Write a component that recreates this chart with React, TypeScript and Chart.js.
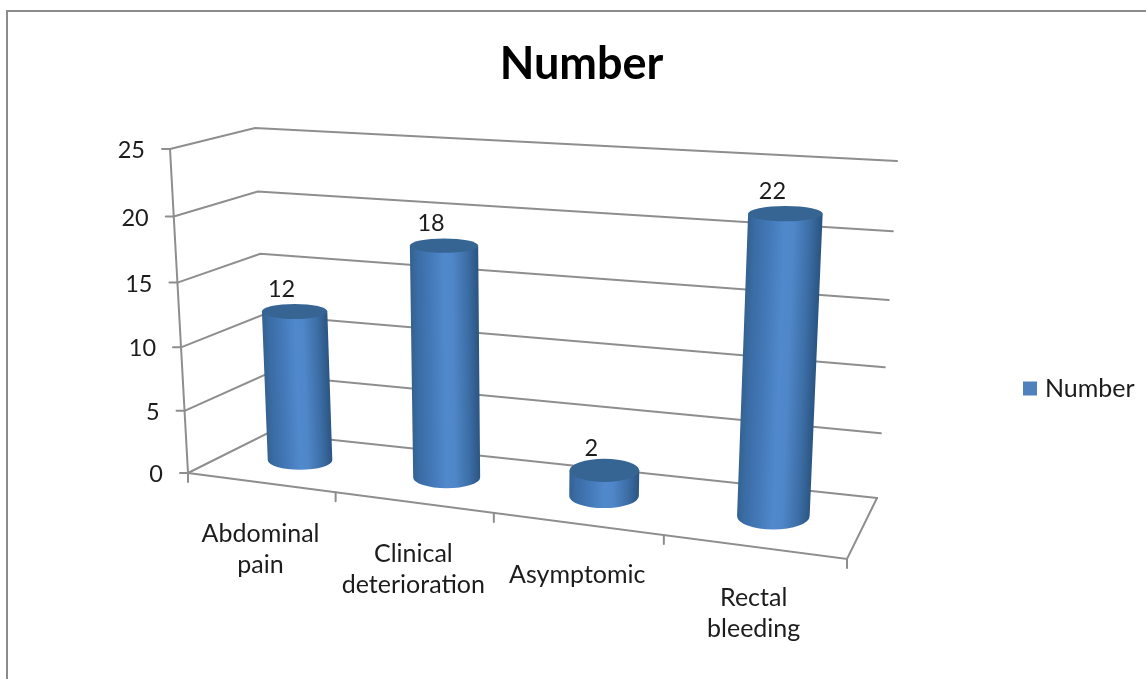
import React, { useEffect, useRef } from "react";
import { Chart, registerables } from "chart.js";

Chart.register(...registerables);

const categories = [["Abdominal", "pain"], ["Clinical", "deterioration"], ["Asymptomic"], ["Rectal", "bleeding"]];
const seriesName = "Number";
const values = [12, 18, 2, 22];
const yMax = 25;
const yStep = 5;

const FONT = "Lato, 'Open Sans', sans-serif";
const TEXT = "#1c1c1c";
const GRID = "#8e8e8e";
const BLUE = "#4f81bd";

// View of the 3D box: corners [u, depth, value]
const FLB = [188, 473], FRB = [847, 559], BLB = [268, 433], BRB = [877, 498];
const FLT = [170, 149], FRT = [864, 192], BLT = [255, 128], BRT = [897, 161];
const KU = 0.866, KV = 0.95, BAR_DEPTH = 0.53, RY = 0.23;
const FLATTEN = 0.55, MEAN_RX = 34.5;

const lerp = (a: number, b: number, t: number) => a + (b - a) * t;
function project(u: number, d: number, v: number) {
  const t = (u * KU) / (1 - u + u * KU);
  const w = (v * KV) / (1 - v + v * KV);
  const axis = (i: number) => {
    const fb = lerp(lerp(FLB[i], FRB[i], t), lerp(FLT[i], FRT[i], t), w);
    const bb = lerp(lerp(BLB[i], BRB[i], t), lerp(BLT[i], BRT[i], t), w);
    return lerp(fb, bb, d);
  };
  return { x: axis(0), y: axis(1) };
}

const cylinder3d = {
  id: "cylinder3d",
  afterLayout(chart: any) {
    const lg = chart.legend;
    if (lg) {
      lg.left = 1021.5;
      lg.top = 370;
    }
  },
  beforeDatasetDraw() {
    return false;
  },
  beforeDatasetsDraw(chart: any) {
    const { ctx, chartArea: ca, scales } = chart;
    const yS = scales.y;
    const normV = (px: number) => (ca.bottom - px) / (ca.bottom - ca.top);
    const normU = (px: number) => (px - ca.left) / (ca.right - ca.left);
    ctx.save();

    // walls & floor
    ctx.strokeStyle = GRID;
    ctx.lineWidth = 2;
    ctx.lineCap = "round";
    const line = (pts: { x: number; y: number }[], close = false) => {
      ctx.beginPath();
      pts.forEach((p, i) => (i ? ctx.lineTo(p.x, p.y) : ctx.moveTo(p.x, p.y)));
      if (close) ctx.closePath();
      ctx.stroke();
    };
    yS.ticks.forEach((tick: any) => {
      const v = normV(yS.getPixelForValue(tick.value));
      line([project(0, 0, v), project(0, 1, v), project(1, 1, v)]);
    });
    line([project(0, 0, 0), project(1, 0, 0), project(1, 1, 0)]);
    line([project(0, 0, 0), project(0, 0, 1)]);

    // tick marks
    yS.ticks.forEach((tick: any) => {
      const p = project(0, 0, normV(yS.getPixelForValue(tick.value)));
      line([p, { x: p.x - 8, y: p.y }]);
    });
    for (let i = 0; i <= categories.length; i++) {
      const p = project(i / categories.length, 0, 0);
      line([p, { x: p.x, y: p.y + 9 }]);
    }

    // axis text
    ctx.fillStyle = TEXT;
    ctx.font = `23.5px ${FONT}`;
    ctx.textBaseline = "middle";
    ctx.textAlign = "right";
    yS.ticks.forEach((tick: any) => {
      const p = project(0, 0, normV(yS.getPixelForValue(tick.value)));
      ctx.fillText(String(tick.value), p.x - 25, p.y + 1.5);
    });
    ctx.font = `25px ${FONT}`;
    ctx.textAlign = "center";
    const xS = scales.x;
    categories.forEach((lines, i) => {
      const p = project(normU(xS.getPixelForValue(i)), 0, 0);
      lines.forEach((txt, j) => ctx.fillText(txt, p.x, p.y + 51.5 + j * 31));
    });

    // cylinders
    const meta = chart.getDatasetMeta(0);
    meta.data.forEach((bar: any, i: number) => {
      const { x, y, base, width } = bar.getProps(["x", "y", "base", "width"], true);
      const u = normU(x);
      const ul = normU(x - width / 2);
      const ur = normU(x + width / 2);
      const vT = normV(y);
      const vB = normV(base);
      const B = project(u, BAR_DEPTH, vB);
      const T = project(u, BAR_DEPTH, vT);
      const flat = (rx: number) => FLATTEN * rx + (1 - FLATTEN) * MEAN_RX;
      const rxB = flat((project(ur, BAR_DEPTH, vB).x - project(ul, BAR_DEPTH, vB).x) / 2);
      const rxT = flat((project(ur, BAR_DEPTH, vT).x - project(ul, BAR_DEPTH, vT).x) / 2);
      const ryB = RY * Math.abs(project(u, 0, vB).y - project(u, 1, vB).y);
      const ryT = RY * Math.abs(project(u, 0, vT).y - project(u, 1, vT).y);

      const ax = T.x - B.x;
      const ay = T.y - B.y;
      const len = Math.hypot(ax, ay) || 1;
      const nx = -ay / len;
      const ny = ax / len;
      const mx = (T.x + B.x) / 2;
      const my = (T.y + B.y) / 2;
      const r = (rxT + rxB) / 2;
      const g = ctx.createLinearGradient(mx - nx * r, my - ny * r, mx + nx * r, my + ny * r);
      g.addColorStop(0, "#34628f");
      g.addColorStop(0.1, "#3a6ca5");
      g.addColorStop(0.28, "#4378b7");
      g.addColorStop(0.5, "#5089cc");
      g.addColorStop(0.62, "#4f87c9");
      g.addColorStop(0.82, "#3e70a9");
      g.addColorStop(1, "#2a5582");

      ctx.beginPath();
      ctx.moveTo(T.x - rxT, T.y);
      ctx.lineTo(B.x - rxB, B.y);
      ctx.ellipse(B.x, B.y, rxB, ryB, 0, Math.PI, 0, true);
      ctx.lineTo(T.x + rxT, T.y);
      ctx.closePath();
      ctx.fillStyle = g;
      ctx.fill();

      ctx.beginPath();
      ctx.ellipse(T.x, T.y, rxT, ryT, 0, 0, Math.PI * 2);
      ctx.fillStyle = "#366593";
      ctx.fill();

      ctx.fillStyle = TEXT;
      ctx.font = `23.5px ${FONT}`;
      ctx.textAlign = "center";
      ctx.textBaseline = "middle";
      ctx.fillText(String(values[i]), T.x - 13, T.y - 22);
    });
    ctx.restore();
  },
};

export default function App() {
  const ref = useRef<HTMLCanvasElement | null>(null);
  useEffect(() => {
    if (!ref.current) return;
    const chart = new Chart(ref.current, {
      type: "bar",
      plugins: [cylinder3d],
      data: {
        labels: categories as any,
        datasets: [
          {
            label: seriesName,
            data: values,
            backgroundColor: BLUE,
            borderColor: BLUE,
            borderWidth: 9,
            barPercentage: 0.43,
            categoryPercentage: 1,
          },
        ],
      },
      options: {
        responsive: false,
        animation: false,
        devicePixelRatio: 1,
        layout: { padding: { left: 17 } },
        scales: {
          x: { ticks: { display: false }, grid: { display: false }, border: { display: false } },
          y: {
            min: 0,
            max: yMax,
            ticks: { display: false, stepSize: yStep },
            grid: { display: false },
            border: { display: false },
          },
        },
        plugins: {
          title: {
            display: true,
            text: seriesName,
            color: "#000000",
            font: { family: FONT, size: 45, weight: "bold" },
            padding: { top: 37, bottom: 10 },
          },
          legend: {
            display: true,
            position: "right",
            align: "start",
            labels: {
              boxWidth: 5,
              boxHeight: 5,
              color: TEXT,
              padding: 6,
              font: { family: FONT, size: 25 },
            },
          },
          tooltip: { enabled: false },
        },
      } as any,
    });
    return () => chart.destroy();
  }, []);
  return (
    <div style={{ position: "absolute", left: 0, top: 0, width: 1146, height: 679, overflow: "hidden", background: "#fff" }}>
      <canvas ref={ref} width={1146} height={679} style={{ display: "block" }} />
      <div
        style={{
          position: "absolute",
          left: 6,
          top: 10,
          width: 1200,
          height: 800,
          borderLeft: "2.5px solid #8c8c8c",
          borderTop: "2.5px solid #8c8c8c",
        }}
      />
    </div>
  );
}
